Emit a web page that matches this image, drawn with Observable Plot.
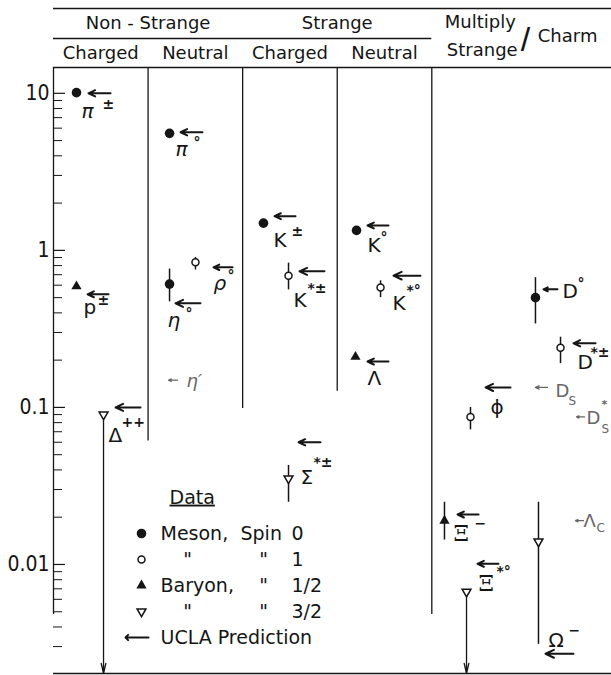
<!DOCTYPE html>
<html><head><meta charset="utf-8">
<script src="https://cdn.jsdelivr.net/npm/d3@7"></script>
<script src="https://cdn.jsdelivr.net/npm/@observablehq/plot@0.6"></script>
<style>
html,body{margin:0;padding:0;background:#fff;}
#chart svg{display:block;}
</style></head><body><div id="chart"></div>
<script>
// ---------------- data ----------------
// measured particles
const particles = ["π±","π°","p±","η°","ρ°","Δ++","K±","K*±","Σ*±","K°","K*°","Λ","φ","Ξ-","Ξ*°","D°","D*±","Ω-"];
const measured  = [10.1, 5.56, 0.59, 0.61, 0.84, 0.090, 1.49, 0.69, 0.0353, 1.34, 0.58, 0.21, 0.087, 0.019, 0.0067, 0.50, 0.24, 0.014];
const errLow    = [null, null, null, 0.47, 0.75, null, null, 0.56, 0.0249, null, 0.50, null, 0.072, 0.0143, null, 0.34, 0.19, 0.0031];
const errHigh   = [null, null, null, 0.76, 0.90, null, null, 0.83, 0.0427, null, 0.64, null, 0.10, 0.0249, null, 0.67, 0.28, 0.0249];
const upperLimit= [false,false,false,false,false,true,false,false,false,false,false,false,false,false,true,false,false,false];
const kind      = ["meson0","meson0","baryon12","meson0","meson1","baryon32","meson0","meson1","baryon32","meson0","meson1","baryon12","meson1","baryon12","baryon32","meson0","meson1","baryon32"];

// UCLA predictions
const predNames = ["π±","π°","p±","η°","ρ°","η′","Δ++","K±","K*±","Σ*±","K°","K*°","Λ","φ","Ξ-","Ξ*°","D°","D*±","Ds","Ds*","Ω-","Λc"];
const predicted = [10.0, 5.65, 0.525, 0.46, 0.78, 0.149, 0.10, 1.65, 0.735, 0.060, 1.44, 0.69, 0.196, 0.134, 0.0208, 0.0101, 0.565, 0.256, 0.134, 0.087, 0.0027, 0.019];
const predOnly  = ["η′","Ds","Ds*","Λc"];   // predictions drawn faint (no data)

// label text pieces (per prediction)
const labelMain = ["π","π","p","η","ρ","η′","Δ","K","K","Σ","K","K","Λ","ϕ","Ξ","Ξ","D","D","D","D","Ω","Λ"];
const labelSup  = ["±","°","±","°","°","","++","±","*±","*±","°","*°","","","−","*°","°","*±","","*","−",""];
const labelSub  = ["","","","","","","","","","","","","","","","","","","S","S","","C"];

// column structure
const groups    = ["Non - Strange","Strange"];
const subgroups = ["Charged","Neutral","Charged","Neutral"];
const tickValues = [10, 1, 0.1, 0.01];
const tickLabels = ["10","1","0.1","0.01"];

// legend
const legendKinds = ["meson0","meson1","baryon12","baryon32"];
const legendCol1  = ["Meson,", "\"", "Baryon,", "\""];
const legendCol2  = ["Spin", "\"", "\"", "\""];
const legendCol3  = ["0", "1", "1/2", "3/2"];

// ---------------- layout (positions / styles) ----------------
const W = 611, H = 675;
const yMin = 0.002022, yMax = 14.6, xMax = 5.9;
const pxPerUnit = (W - 53) / xMax;
const pointX   = [0.243,1.227,0.243,1.227,1.501,0.529,2.220,2.485,2.485,3.204,3.458,3.193,4.409,4.134,4.367,5.096,5.361,5.128];
const predHeadX = [0.370,1.343,0.360,1.290,1.692,1.216,0.656,2.337,2.601,2.591,3.320,3.595,3.320,4.568,4.272,4.483,5.181,5.498,5.096,5.530,5.202,5.519];
const predTailX = [0.603,1.575,0.582,1.554,1.893,1.311,0.920,2.559,2.865,2.823,3.542,3.880,3.542,4.832,4.494,4.705,5.329,5.731,5.223,5.615,5.498,5.604];
// label offsets in px relative to the arrow head: [main dx, dy, sup dx, dy, sub dx, dy]
const labelOff = [
  [-7,18,14,11],[-5,17,13,10],[-4,13,10,6],[-8,17,10,10],[0,16,14,8],[18,1],
  [-7,28,6,15],[-1,24,17,15],[-6,29,8,17],[2,35,15,20],[0,20,13,12],[-1,28,13,15],
  [0,17],[5,20],[-4,19,17,9],[1,20,19,8],[19,2,34,-6],[4,19,17,9],
  [20,4,0,0,33,14],[10,1,25,-12,25,12],[3,-13,23,-23],[8,1,0,0,21,7]
];
const dividerX   = [1, 2, 3, 4];
const dividerEnd = [0.04, 0.0415, 0.083, yMin];
const dividerFromTop = [false, true, false, true];

const INK = "#151515", FAINT = "#666";
const FONT = "DejaVu Sans";
const NUMFONT = "'Liberation Sans Narrow', 'DejaVu Sans Condensed', 'Liberation Sans', sans-serif";
const markerStyles = {
  meson0:   {symbol: "circle",   r: 4.8, fill: INK, stroke: "none"},
  meson1:   {symbol: "circle",   r: 3.5, fill: "white", stroke: INK, strokeWidth: 1.5},
  baryon12: {symbol: "triangle", r: 3.8, fill: INK, stroke: "none"},
  baryon32: {symbol: "triangle", r: 3.3, fill: "white", stroke: INK, strokeWidth: 1.5, rotate: 180}
};

// ---------------- tables ----------------
const meas = particles.map((name, i) => ({name, v: measured[i], lo: errLow[i], hi: errHigh[i],
  limit: upperLimit[i], kind: kind[i], x: pointX[i]}));
const preds = predNames.map((name, i) => ({name, v: predicted[i], x1: predTailX[i], x2: predHeadX[i],
  faint: predOnly.includes(name), main: labelMain[i], sup: labelSup[i], sub: labelSub[i], off: labelOff[i]}));
const minorTicks = [];
for (let e = -3; e <= 1; e++) for (let k = 2; k <= 9; k++) { const v = k * Math.pow(10, e); if (v > yMin && v < yMax) minorTicks.push(v); }
const dividers = dividerX.map((x, i) => ({x, end: dividerEnd[i], fromTop: dividerFromTop[i]}));

const marks = [];
const HS = {fontSize: 18, fill: INK, letterSpacing: "0.5px"};
// frame lines
marks.push(Plot.ruleY([yMax, yMin], {stroke: INK, strokeWidth: 1.3}));
marks.push(Plot.ruleY([yMax], {dy: -59, stroke: INK, strokeWidth: 1.3}));
marks.push(Plot.ruleY([yMax], {x1: () => 0, x2: () => 4, dy: -29, stroke: INK, strokeWidth: 1.3}));
marks.push(Plot.ruleX([0], {y1: () => yMin, y2: () => yMax, insetTop: -59, stroke: INK, strokeWidth: 1.3}));
marks.push(Plot.ruleX(dividers.filter(d => d.fromTop), {x: "x", y1: "end", y2: () => yMax, insetTop: -59, stroke: INK, strokeWidth: 1.3}));
marks.push(Plot.ruleX(dividers.filter(d => !d.fromTop), {x: "x", y1: "end", y2: () => yMax, insetTop: -29, stroke: INK, strokeWidth: 1.3}));
// y ticks (inside)
marks.push(Plot.ruleY(minorTicks, {y: d => d, x1: () => 0, x2: () => 9 / pxPerUnit, stroke: INK, strokeWidth: 1}));
marks.push(Plot.ruleY(tickValues, {y: d => d, x1: () => 0, x2: () => 12 / pxPerUnit, stroke: INK, strokeWidth: 1.2}));
marks.push(Plot.text(tickValues, {y: d => d, text: (d, i) => tickLabels[i], frameAnchor: "left", dx: -4,
  textAnchor: "end", lineAnchor: "middle", fontSize: 21, fontFamily: NUMFONT, letterSpacing: "-0.8px", fill: INK}));
// header text
marks.push(Plot.text(groups, {x: (d, i) => 1 + 2 * i, text: d => d, frameAnchor: "top", dy: -44, lineAnchor: "middle", ...HS}));
marks.push(Plot.text(subgroups, {x: (d, i) => 0.5 + i, text: d => d, frameAnchor: "top", dy: -14, lineAnchor: "middle", ...HS}));
marks.push(Plot.text(["Multiply"], {x: () => 4, text: d => d, frameAnchor: "top", dx: 13, dy: -45, textAnchor: "start", lineAnchor: "middle", ...HS}));
marks.push(Plot.text(["Strange"], {x: () => 4, text: d => d, frameAnchor: "top", dx: 15, dy: -17, textAnchor: "start", lineAnchor: "middle", ...HS}));
marks.push(Plot.text(["/"], {x: () => 4, text: d => d, frameAnchor: "top", dx: 89, dy: -27, textAnchor: "start", lineAnchor: "middle", fontSize: 34, fontFamily: "'Liberation Sans', sans-serif", fill: INK}));
marks.push(Plot.text(["Charm"], {x: () => 4, text: d => d, frameAnchor: "top", dx: 106, dy: -31, textAnchor: "start", lineAnchor: "middle", ...HS}));

// error bars and limits
marks.push(Plot.ruleX(meas.filter(d => d.lo != null), {x: "x", y1: "lo", y2: "hi", stroke: INK, strokeWidth: 1.5}));
marks.push(Plot.arrow(meas.filter(d => d.limit), {x1: "x", x2: "x", y1: "v", y2: () => yMin, stroke: INK, strokeWidth: 1.3, headLength: 12, headAngle: 26}));
// data points
for (const k of legendKinds) {
  marks.push(Plot.dot(meas.filter(d => d.kind === k), {x: "x", y: "v", ...markerStyles[k]}));
}
// predictions
marks.push(Plot.arrow(preds.filter(d => !d.faint), {x1: "x1", x2: "x2", y1: "v", y2: "v", stroke: INK, strokeWidth: 2, headLength: 7, headAngle: 50}));
marks.push(Plot.arrow(preds.filter(d => d.faint), {x1: "x1", x2: "x2", y1: "v", y2: "v", stroke: FAINT, strokeWidth: 1.3, headLength: 5, headAngle: 50}));
// labels
for (const p of preds) {
  const o = p.off, col = p.faint ? FAINT : INK;
  const italic = ["π","η","ρ","η′"].includes(p.main) ? "italic" : "normal";
  const isXi = p.main === "Ξ";
  marks.push(Plot.text([p], {x: "x2", y: "v", text: d => d.main, dx: o[0], dy: o[1], textAnchor: "start", lineAnchor: "middle",
    fontSize: p.faint ? 18 : (isXi ? 22 : 20), fontStyle: italic, fontFamily: isXi ? "DejaVu Serif" : FONT, fill: col}));
  if (p.sup) marks.push(Plot.text([p], {x: "x2", y: "v", text: d => d.sup, dx: o[2], dy: o[3], textAnchor: "start", lineAnchor: "middle",
    fontSize: p.faint ? 11 : 14, fontWeight: "bold", fill: col}));
  if (p.sub) marks.push(Plot.text([p], {x: "x2", y: "v", text: d => d.sub, dx: o[4], dy: o[5], textAnchor: "start", lineAnchor: "middle",
    fontSize: 12, fill: col}));
}
// legend
const LS = {fontSize: 19, fill: INK, letterSpacing: "1px"};
const L = (txt, dx, dy, anchor = "start") => Plot.text([txt], {frameAnchor: "top-left", text: d => d, dx, dy,
  textAnchor: anchor, lineAnchor: "middle", ...LS});
marks.push(L("Data", 116, 430));
legendKinds.forEach((k, i) => {
  const dy = 466 + 26 * i;
  marks.push(Plot.dot([k], {frameAnchor: "top-left", dx: 88, dy, ...markerStyles[k]}));
  const c1 = legendCol1[i], c2 = legendCol2[i];
  marks.push(c1 === "\"" ? L(c1, 134, dy, "middle") : L(c1, 107, dy));
  marks.push(c2 === "\"" ? L(c2, 210, dy, "middle") : L(c2, 187, dy));
  marks.push(L(legendCol3[i], 238, dy));
});
marks.push(Plot.vector(["UCLA"], {frameAnchor: "top-left", dx: 95, dy: 570, length: 23, rotate: 270, anchor: "start", stroke: INK, strokeWidth: 2, r: 2}));
marks.push(L("UCLA Prediction", 107, 570));

const plot = Plot.plot({
  width: W, height: H,
  marginLeft: 53, marginRight: 0, marginTop: 67, marginBottom: 2,
  x: {type: "linear", domain: [0, xMax], axis: null},
  y: {type: "log", domain: [yMin, yMax], axis: null},
  style: {fontFamily: FONT, fontSize: "17px", background: "white", color: INK},
  marks
});
d3.select(plot).selectAll("text").filter(function () { return this.textContent === "Data"; })
  .style("text-decoration", "underline");
document.getElementById("chart").appendChild(plot);
</script></body></html>
